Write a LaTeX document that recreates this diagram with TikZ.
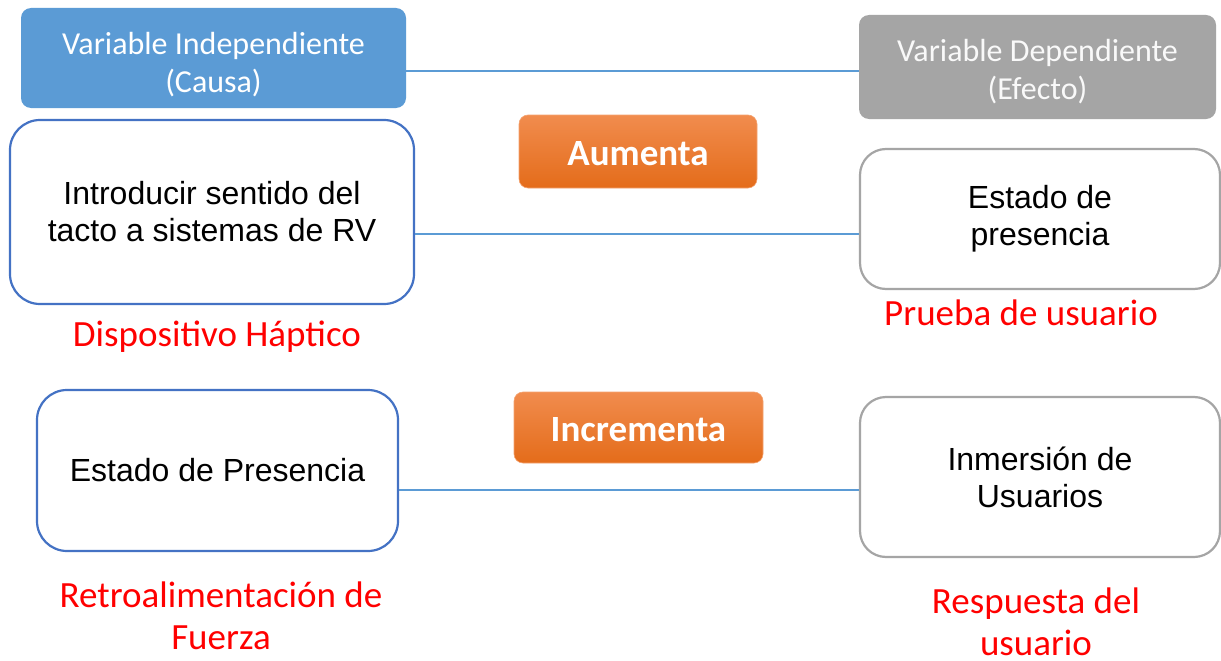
\documentclass[tikz,border=0pt]{standalone}
\usepackage{fontspec}
\setmainfont{Carlito}
\newfontfamily\arialf{Liberation Sans}
\usetikzlibrary{positioning}
\definecolor{hblue}{HTML}{5B9BD5}
\definecolor{hgray}{HTML}{A5A5A5}
\definecolor{bblue}{HTML}{4472C4}
\definecolor{otop}{HTML}{F18C4E}
\definecolor{obot}{HTML}{E46C1A}
\definecolor{lblue}{HTML}{5B9BD5}
\definecolor{redt}{HTML}{FF0000}
\tikzset{
  header/.style={rounded corners=10pt, text=white, align=center, inner sep=0pt,
    font=\fontsize{32}{38}\selectfont},
  verbbox/.style={rounded corners=9pt, shading=axis, top color=otop, bottom color=obot,
    draw=otop!80!white, line width=0.6pt, text=white, inner sep=0pt,
    font=\fontsize{37}{40}\selectfont\bfseries},
  verbtext/.style={text=white, inner sep=0pt, font=\fontsize{37}{40}\selectfont\bfseries},
  leftbox/.style={draw=bblue, line width=2.2pt, rounded corners=30pt, fill=white,
    align=center, inner sep=0pt, font=\arialf\fontsize{32}{37}\selectfont},
  rightbox/.style={draw=hgray, line width=2.2pt, rounded corners=26pt, fill=white,
    align=center, inner sep=0pt, font=\arialf\fontsize{32}{37}\selectfont},
  redlabel/.style={text=redt, align=center, inner sep=0pt, font=\fontsize{37}{42}\selectfont},
  link/.style={draw=lblue, line width=1.4pt}
}
\begin{document}
\begin{tikzpicture}[x=1pt,y=-1pt]
\useasboundingbox[fill=white] (0,0) rectangle (1221,661);
% headers
\node[header, fill=hblue, minimum width=385pt, minimum height=100pt] (hb) at (213.5,58) {};
\node[header, text=white] (hbt) at (213.5,65) {Variable Independiente\\(Causa)};
\node[header, fill=hgray, minimum width=357pt, minimum height=104pt] (hg) at (1037.5,67) {};
\node[header, text=white!95!gray] (hgt) at (1037.5,72) {Variable Dependiente\\(Efecto)};
% verbs
\node[verbbox, minimum width=238pt, minimum height=73pt] (aum) at (638,151.5) {};
\node[verbtext] (aumt) at (638,154) {Aumenta};
\node[verbbox, minimum width=249pt, minimum height=71pt] (inc) at (638.5,427.5) {};
\node[verbtext] (inct) at (638.5,430) {Incrementa};
% boxes
\node[leftbox, minimum width=404pt, minimum height=184pt] (b1) at (212,212) {Introducir sentido del\\tacto a sistemas de RV};
\node[rightbox, minimum width=360pt, minimum height=140pt] (b2) at (1040,219) {Estado de\\presencia};
\node[leftbox, minimum width=361pt, minimum height=161pt] (b3) at (217.5,470.5) {Estado de Presencia};
\node[rightbox, minimum width=360pt, minimum height=160pt] (b4) at (1040,477) {Inmersión de\\Usuarios};
% red labels
\node[redlabel] (l1) at (217,337) {Dispositivo Háptico};
\node[redlabel] (l2) at (1021,313) {Prueba de usuario};
\node[redlabel] (l3) at (221,615.5) {Retroalimentación de\\Fuerza};
\node[redlabel] (l4) at (1036,622) {Respuesta del\\usuario};
% links
\draw[link] (hb.east |- 0,71) -- (hg.west |- 0,71);
\draw[link] (b1.east |- 0,234) -- (b2.west |- 0,234);
\draw[link] (b3.east |- 0,490) -- (b4.west |- 0,490);
\end{tikzpicture}
\end{document}
